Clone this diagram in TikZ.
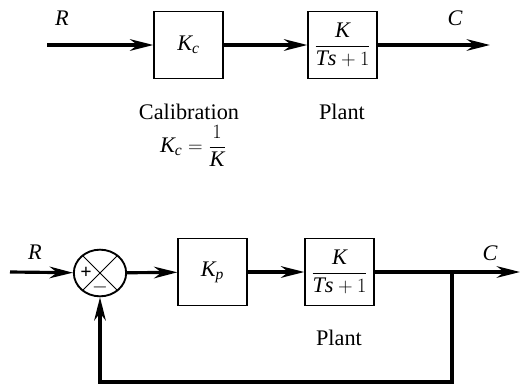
\documentclass[tikz,border=0pt]{standalone}
\usepackage{amsmath}
\usepackage{fontspec}
\setmainfont{Liberation Serif}
\usetikzlibrary{arrows.meta,positioning,shapes.geometric}

\begin{document}
\begin{tikzpicture}[
    x=0.03cm, y=-0.03cm,
    font=\fontsize{19}{23}\selectfont,
    block/.style={rectangle, draw, line width=1.2pt, minimum width=2.07cm, minimum height=2.02cm, inner sep=0pt},
    sumnode/.style={ellipse, draw, line width=1.6pt, minimum width=1.57cm, minimum height=1.4cm, inner sep=0pt},
    sig/.style={inner sep=0pt},
    sign/.style={inner sep=0pt, font=\fontsize{17}{19}\selectfont\bfseries},
    arrow/.style={-{Stealth[length=0.7cm,width=0.35cm]}, line width=2.7pt},
    cross/.style={line width=0.9pt}
]
\useasboundingbox (0,0) rectangle (520,389);

% calibration loop
\coordinate (in1) at (47,45);
\node[sig] (r1) at (62,18) {$\mathit{R}$};
\node[block] (kc) at (188.5,45) {$\mathit{K}_{\mathit{c}}$};
\node[block] (plant1) at (342.5,45) {$\dfrac{\mathit{K}}{\mathit{Ts}+1}$};
\coordinate (out1) at (490,45);
\node[sig] (c1) at (455,18) {$\mathit{C}$};
\node (calib) at (189,112) {Calibration};
\node (kcval) at (193,146) {$\mathit{K}_{\mathit{c}}=\dfrac{1}{\mathit{K}}$};
\node (ptext1) at (342,112) {Plant};

\draw[arrow] (in1) -- (kc);
\draw[arrow] (kc) -- (plant1);
\draw[arrow] (plant1) -- (out1);

% feedback loop
\coordinate (in2) at (10,272);
\node[sig] (r2) at (35,252) {$\mathit{R}$};
\node[sumnode] (sum) at (100,273) {};
\node[block] (kp) at (212.5,272) {$\mathit{K}_{\mathit{p}}$};
\node[block] (plant2) at (339.5,272) {$\dfrac{\mathit{K}}{\mathit{Ts}+1}$};
\coordinate (branch) at (452,272);
\coordinate (out2) at (520,272);
\coordinate (fbr) at (452,382);
\coordinate (fbl) at (100,382);
\node[sig] (c2) at (490,253) {$\mathit{C}$};
\node (ptext2) at (339,338) {Plant};
\node[sign] (plus) at (86,273) {+};
\node[sign] (minus) at (100,287) {$-$};

\draw[cross] (sum.45) -- (sum.225) (sum.135) -- (sum.315);
\draw[arrow] (in2) -- (sum);
\draw[arrow] (sum) -- (kp);
\draw[arrow] (kp) -- (plant2);
\draw[arrow] (plant2) -- (out2);
\draw[arrow] (branch) -- (fbr) -- (fbl) -- (sum);
\end{tikzpicture}
\end{document}
